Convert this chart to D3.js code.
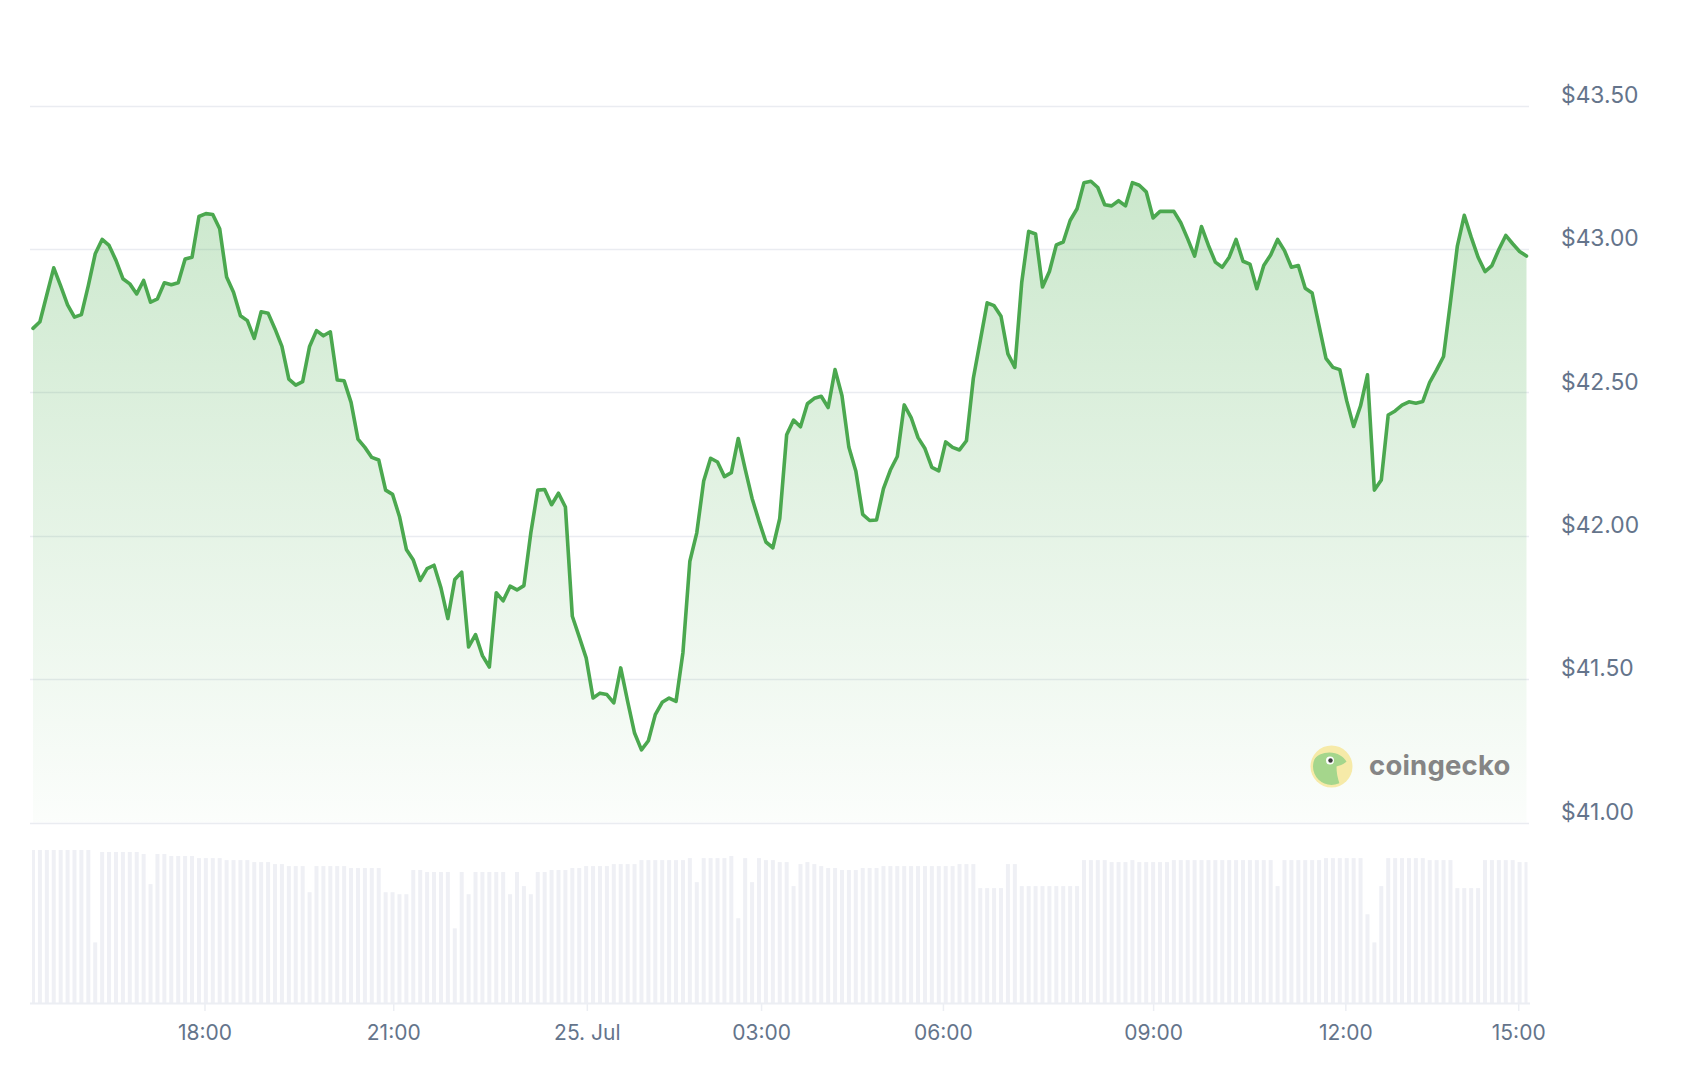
<!DOCTYPE html>
<html>
<head>
<meta charset="utf-8">
<script src="https://cdn.jsdelivr.net/npm/d3@7"></script>
<style>
  html, body { margin: 0; padding: 0; background: #ffffff; }
  svg { display: block; }
  text { font-family: Inter, "Noto Sans", sans-serif; }
</style>
</head>
<body>
<svg id="chart" width="1686" height="1074"></svg>
<script>
// ---------------- data ----------------
const prices = [
  42.723,42.746,42.840,42.934,42.871,42.805,42.762,42.771,42.872,42.983,
  43.033,43.012,42.960,42.896,42.878,42.843,42.890,42.814,42.826,42.882,
  42.875,42.882,42.965,42.971,43.113,43.123,43.120,43.070,42.902,42.849,
  42.767,42.750,42.688,42.781,42.776,42.721,42.660,42.546,42.525,42.537,
  42.660,42.715,42.697,42.711,42.543,42.540,42.465,42.337,42.308,42.273,
  42.264,42.159,42.144,42.067,41.952,41.915,41.844,41.885,41.897,41.818,
  41.711,41.847,41.873,41.612,41.655,41.582,41.542,41.801,41.773,41.824,
  41.811,41.826,42.010,42.159,42.161,42.108,42.148,42.100,41.719,41.647,
  41.574,41.434,41.451,41.446,41.417,41.539,41.422,41.312,41.253,41.285,
  41.376,41.419,41.434,41.422,41.593,41.911,42.010,42.191,42.270,42.257,
  42.206,42.220,42.339,42.232,42.130,42.051,41.978,41.958,42.060,42.352,
  42.403,42.380,42.460,42.479,42.486,42.447,42.579,42.488,42.308,42.226,
  42.074,42.053,42.055,42.164,42.229,42.276,42.456,42.412,42.342,42.304,
  42.238,42.226,42.327,42.308,42.299,42.331,42.549,42.680,42.812,42.802,
  42.765,42.634,42.587,42.884,43.061,43.052,42.867,42.921,43.014,43.024,
  43.099,43.140,43.231,43.236,43.214,43.154,43.150,43.168,43.150,43.231,
  43.222,43.199,43.108,43.131,43.131,43.131,43.091,43.035,42.975,43.078,
  43.012,42.954,42.936,42.971,43.033,42.957,42.947,42.861,42.942,42.979,
  43.033,42.994,42.936,42.942,42.863,42.846,42.732,42.618,42.587,42.579,
  42.470,42.381,42.453,42.561,42.159,42.194,42.421,42.435,42.455,42.467,
  42.462,42.468,42.535,42.578,42.625,42.814,43.010,43.117,43.041,42.971,
  42.921,42.942,42.998,43.047,43.018,42.991,42.975
];

const volumes = [
  100,100,100,100,100,100,100,100,100,39.6,
  98.7,98.7,98.7,98.7,98.7,98.7,97.4,77.7,97.4,97.4,
  96.1,96.1,96.1,96.1,94.7,94.7,94.7,94.7,93.4,93.4,
  93.4,93.4,92.1,92.1,92.1,90.8,90.8,89.5,89.5,89.5,
  72.4,89.5,89.5,89.5,89.5,89.5,88.2,88.2,88.2,88.2,
  88.2,72.4,72.4,71.1,71.1,86.9,86.9,85.6,85.6,85.6,
  85.6,48.8,85.6,71.1,85.6,85.6,85.6,85.6,85.6,71.1,
  85.6,76.4,71.1,
  85.6,85.6,86.9,86.9,86.9,88.2,88.2,89.5,89.5,89.5,
  89.5,90.8,90.8,90.8,90.8,93.4,93.4,93.4,93.4,93.4,
  93.4,93.4,94.7,79.0,94.7,94.7,94.7,94.7,96.1,55.4,
  94.7,79.0,94.7,93.4,93.4,92.1,92.1,76.4,90.8,92.1,
  90.8,89.5,88.2,88.2,86.9,86.9,86.9,88.2,88.2,88.2,
  89.5,89.5,89.5,89.5,89.5,89.5,89.5,89.5,89.5,89.5,
  89.5,90.8,90.8,90.8,75.1,75.1,75.1,75.1,90.8,90.8,
  76.4,76.4,
  76.4,76.4,76.4,76.4,76.4,76.4,76.4,93.4,93.4,93.4,
  93.4,92.1,92.1,92.1,93.4,92.1,92.1,92.1,92.1,92.1,
  93.4,93.4,93.4,93.4,93.4,93.4,93.4,93.4,93.4,93.4,
  93.4,93.4,93.4,93.4,93.4,76.4,93.4,93.4,93.4,93.4,
  93.4,93.4,94.7,94.7,94.7,94.7,94.7,94.7,58.0,39.6,
  76.4,94.7,94.7,94.7,94.7,94.7,94.7,93.4,93.4,93.4,
  93.4,75.1,75.1,75.1,75.1,93.4,93.4,93.4,93.4,93.4,
  92.1,92.1
];

const xTickLabels = ["18:00", "21:00", "25. Jul", "03:00", "06:00", "09:00", "12:00", "15:00"];
const xTickIndex  = [24.8, 52.1, 80.1, 105.3, 131.6, 162.0, 189.8, 214.8];
const yTicks      = [41.0, 41.5, 42.0, 42.5, 43.0, 43.5];

// ---------------- chart ----------------
const svg = d3.select("#chart");
const plotLeft = 30, plotRight = 1530;

const x  = d3.scaleLinear().domain([0, prices.length - 1]).range([33, 1526.5]);
const y  = d3.scaleLinear().domain([41, 43.5]).range([822.5, 105.5]);
const vy = d3.scaleLinear().domain([0, 100]).range([1003, 850]);

const defs = svg.append("defs");
const grad = defs.append("linearGradient")
  .attr("id", "areaGrad").attr("x1", 0).attr("y1", 0).attr("x2", 0).attr("y2", 1);
grad.append("stop").attr("offset", "0%").attr("stop-color", "rgb(76,175,80)").attr("stop-opacity", 0.29);
grad.append("stop").attr("offset", "100%").attr("stop-color", "rgb(76,175,80)").attr("stop-opacity", 0.02);

defs.append("clipPath").attr("id", "volClip")
  .append("rect").attr("x", 32).attr("y", 800).attr("width", 1495.5).attr("height", 210);

// grid lines
svg.append("g").selectAll("line").data(yTicks).join("line")
  .attr("x1", plotLeft).attr("x2", plotRight - 1)
  .attr("y1", d => Math.round(y(d)) + 0.5).attr("y2", d => Math.round(y(d)) + 0.5)
  .attr("stroke", "#eaecf1").attr("stroke-width", 1.5);

// y labels
svg.append("g").selectAll("text").data(yTicks).join("text")
  .attr("x", 1561).attr("y", d => y(d) - 9)
  .attr("dominant-baseline", "middle")
  .attr("font-size", 22.8).attr("fill", "#64748b")
  .text(d => "$" + d3.format(".2f")(d));

// area + line
const area = d3.area().x((d, i) => x(i)).y0(y(41)).y1(d => y(d));
svg.append("path").datum(prices).attr("d", area).attr("fill", "url(#areaGrad)");

const line = d3.line().x((d, i) => x(i)).y(d => y(d));
svg.append("path").datum(prices).attr("d", line)
  .attr("fill", "none").attr("stroke", "#4ba84f").attr("stroke-width", 3.6)
  .attr("stroke-linejoin", "round").attr("stroke-linecap", "round");

// coingecko watermark
const logo = svg.append("g").attr("transform", "translate(1331.5,766.5)");
defs.append("clipPath").attr("id", "logoClip").append("circle").attr("r", 18.5);
logo.append("circle").attr("r", 21).attr("fill", "#f6eaa8");
logo.append("path").attr("clip-path", "url(#logoClip)")
  .attr("d", "M-20,20 L-20,-2 C-18,-10 -10,-14 -2,-14 C6,-14 12,-10 15,-5 C12,-2 8,-1 5,0 C5,6 6,12 9,20 Z")
  .attr("fill", "#a5d68c");
logo.append("circle").attr("cx", -1.5).attr("cy", -6).attr("r", 4).attr("fill", "#ffffff");
logo.append("circle").attr("cx", -1).attr("cy", -6).attr("r", 2.2).attr("fill", "#3c3c3c");
svg.append("text").attr("x", 1369).attr("y", 774.5)
  .attr("font-size", 27.5).attr("font-weight", 700).attr("fill", "#858585")
  .attr("letter-spacing", 0.2)
  .text("coingecko");

// volume bars
svg.append("g").attr("clip-path", "url(#volClip)")
  .selectAll("rect").data(volumes).join("rect")
  .attr("x", (d, i) => x(i) - 2).attr("width", 4)
  .attr("y", d => vy(d)).attr("height", d => vy(0) - vy(d))
  .attr("fill", "#eff0f5");

// x axis
const xAxis = d3.axisBottom(x)
  .tickValues(xTickIndex)
  .tickFormat((d, i) => xTickLabels[i])
  .tickSize(8).tickSizeOuter(0);
const gx = svg.append("g").attr("transform", "translate(0,1003)").call(xAxis);
gx.select(".domain").remove();
gx.selectAll(".tick line").attr("stroke", "#eceef3").attr("stroke-width", 1.5);
gx.selectAll(".tick text")
  .attr("y", 31).attr("dy", null).attr("dominant-baseline", "middle")
  .attr("font-family", "Inter, 'Noto Sans', sans-serif")
  .attr("font-size", 21).attr("fill", "#64748b");
svg.append("line").attr("x1", plotLeft).attr("x2", plotRight)
  .attr("y1", 1003.5).attr("y2", 1003.5)
  .attr("stroke", "#eceef3").attr("stroke-width", 2);
</script>
</body>
</html>
